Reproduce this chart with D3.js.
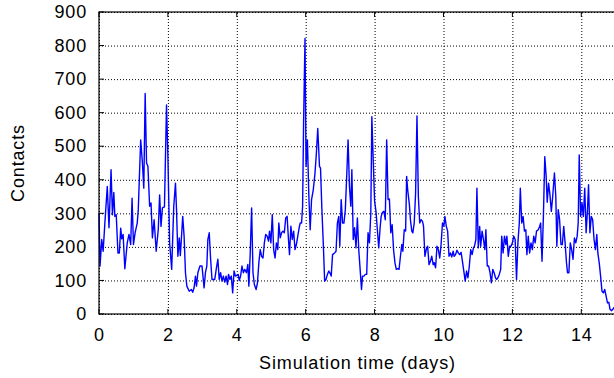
<!DOCTYPE html>
<html>
<head>
<meta charset="utf-8">
<script src="https://cdn.jsdelivr.net/npm/d3@7"></script>
<style>
  body { margin: 0; background: #fff; }
  text { font-family: "Liberation Sans", Arial, sans-serif; fill: #000; letter-spacing: 0.85px; }
</style>
</head>
<body>
<div id="grafico"></div>
<script>
// simulation time in days
const days = [
  0.00,0.03,0.08,0.12,0.17,0.24,0.29,0.35,0.39,0.43,0.46,0.50,0.55,0.59,0.63,0.66,0.70,0.75,0.82,0.87,
  0.92,0.96,1.00,1.05,1.11,1.14,1.21,1.26,1.30,1.34,1.38,1.42,1.47,1.51,1.55,1.60,1.66,1.72,1.76,1.80,
  1.84,1.90,1.96,2.00,2.05,2.11,
  2.17,2.22,2.25,2.29,2.33,2.36,2.39,2.43,2.47,2.51,2.55,2.62,2.68,2.72,2.76,2.80,2.83,2.87,2.93,2.99,
  3.05,3.09,3.13,3.16,3.20,3.24,3.28,3.32,3.36,3.41,3.45,3.49,3.53,3.57,3.61,3.65,3.69,3.73,3.76,3.80,
  3.84,3.88,3.92,3.96,4.00,4.04,4.07,4.11,4.15,4.19,4.23,
  4.28,4.32,4.35,4.39,4.43,4.47,4.51,4.56,4.60,4.64,4.68,4.72,4.76,4.80,4.84,4.88,4.92,4.95,4.99,5.03,
  5.07,5.11,5.15,5.19,5.22,5.26,5.30,5.34,5.38,5.42,5.46,5.50,5.53,5.57,5.61,5.65,5.69,5.73,5.77,5.81,
  5.84,5.88,5.91,5.94,5.98,6.01,6.05,6.09,6.13,6.17,6.22,6.27,6.31,6.35,
  6.40,6.43,6.47,6.51,6.55,6.59,6.63,6.67,6.71,6.74,6.78,6.84,6.88,6.92,6.96,6.99,7.03,7.07,7.11,7.15,
  7.19,7.23,7.27,7.31,7.34,7.38,7.42,7.46,7.50,7.54,7.58,7.62,7.65,7.69,7.73,7.77,7.81,7.85,7.89,7.92,
  7.96,8.00,8.04,8.08,8.12,8.16,8.19,8.23,8.27,8.31,8.35,8.39,8.43,8.47,
  8.51,8.55,8.59,8.63,8.67,8.71,8.75,8.79,8.82,8.86,8.90,8.93,8.96,9.01,9.04,9.08,9.11,9.15,9.19,9.23,
  9.27,9.31,9.35,9.39,9.42,9.46,9.50,9.54,9.58,9.62,9.66,9.70,9.73,9.77,9.81,9.85,9.89,9.93,9.97,10.01,
  10.04,10.08,10.12,10.16,10.20,10.24,10.28,10.31,10.35,10.39,10.43,10.47,10.51,10.55,10.59,
  10.63,10.67,10.71,10.75,10.79,10.83,10.87,10.90,10.94,10.97,11.01,11.05,11.08,11.12,11.16,11.20,11.23,11.27,11.31,11.35,
  11.39,11.43,11.47,11.51,11.54,11.58,11.62,11.66,11.69,11.73,11.77,11.81,11.84,11.88,11.92,11.96,12.00,12.04,12.08,12.12,
  12.16,12.20,12.23,12.27,12.31,12.35,12.39,12.42,12.46,12.50,12.54,12.58,12.62,12.66,12.70,
  12.75,12.79,12.82,12.86,12.90,12.94,12.98,13.01,13.05,13.09,13.13,13.17,13.22,13.26,13.29,13.33,13.37,13.41,13.45,13.49,
  13.53,13.57,13.60,13.64,13.68,13.72,13.76,13.80,13.84,13.88,13.91,13.94,13.98,14.02,14.06,14.10,14.14,14.18,14.21,14.25,
  14.29,14.33,14.37,14.41,14.45,14.48,14.52,14.56,14.60,14.64,14.68,14.72,14.76,14.80,14.83,14.87,14.91,14.95
];

// number of contacts at each time
const contacts = [
  300,143,222,187,270,380,257,430,296,362,291,296,182,182,256,224,237,135,212,237,
  207,345,207,243,271,311,519,450,375,657,450,440,321,331,227,281,187,251,355,261,
  316,319,623,469,212,133,
  321,390,311,172,227,174,222,291,232,123,83,68,73,65,78,113,83,123,143,143,
  78,123,143,222,242,163,103,103,103,138,163,103,123,98,113,95,113,88,118,103,
  113,63,128,113,115,118,100,113,143,123,133,
  123,148,83,182,316,123,88,73,93,153,192,172,167,212,237,232,217,247,212,296,
  192,167,212,192,271,227,242,247,242,286,291,222,177,262,222,247,192,207,232,257,
  271,271,321,578,821,440,519,355,251,341,370,420,479,553,
  440,435,311,212,98,103,118,128,121,113,177,182,187,271,291,202,341,271,271,311,
  410,519,380,321,430,222,257,197,286,192,133,73,113,113,118,118,242,212,301,588,
  459,336,306,251,197,257,291,303,306,281,519,341,343,242,
  266,192,153,133,135,133,172,207,187,251,247,410,370,326,281,247,242,271,360,590,
  350,271,281,276,262,172,192,202,147,157,172,147,153,138,202,192,167,207,271,262,
  291,262,247,172,182,170,187,172,177,190,182,177,184,157,128,
  98,128,108,143,192,177,197,202,222,375,197,261,202,247,222,192,251,143,143,123,
  93,133,123,108,103,108,118,133,232,182,232,207,232,172,202,202,212,232,222,103,
  212,271,375,271,291,247,251,177,232,182,212,192,232,212,247,
  251,261,271,157,291,469,410,333,390,355,306,350,420,350,202,311,281,207,207,261,
  212,153,123,123,212,192,163,227,212,232,271,474,291,331,291,375,242,311,385,242,
  291,281,222,192,237,182,153,113,68,63,73,53,33,35,15,10,13,20
];

const xTicks = [0, 2, 4, 6, 8, 10, 12, 14];
const yTicks = [0, 100, 200, 300, 400, 500, 600, 700, 800, 900];

// margens do grafico
const margin = { top: 12, right: 0, bottom: 64, left: 99 };
const width = 516.75;  // 15 dias, a borda direita fica fora da janela
const height = 302;

const svg = d3.select("#grafico")
  .append("svg")
    .attr("width", 614)
    .attr("height", 378)
  .append("g")
    .attr("transform", "translate(" + margin.left + "," + margin.top + ")");

const x = d3.scaleLinear()
  .domain([0, 15])
  .range([0, width]);

const y = d3.scaleLinear()
  .domain([0, 900])
  .range([height, 0]);

// eixo x com grade pontilhada
const xAxis = svg.append("g")
  .attr("transform", "translate(0," + height + ")")
  .call(d3.axisBottom(x).tickValues(xTicks).tickSizeInner(-height).tickSizeOuter(0).tickPadding(14));
xAxis.select(".domain").remove();
xAxis.selectAll("line")
  .attr("stroke", "#000")
  .attr("stroke-dasharray", "1,2");
xAxis.selectAll("text")
  .attr("font-size", "18px");

// eixo y com grade pontilhada
const yAxis = svg.append("g")
  .call(d3.axisLeft(y).tickValues(yTicks).tickSizeInner(-width).tickSizeOuter(0).tickPadding(12));
yAxis.select(".domain").remove();
yAxis.selectAll("line")
  .attr("stroke", "#000")
  .attr("stroke-dasharray", "1,2");
yAxis.selectAll("text")
  .attr("font-size", "18px");

// pequenos ticks solidos para dentro
svg.selectAll(".xt")
  .data(xTicks)
  .enter()
  .append("path")
    .attr("d", d => "M" + x(d) + "," + height + "v-5M" + x(d) + ",0v5")
    .attr("stroke", "#000");
svg.selectAll(".yt")
  .data(yTicks)
  .enter()
  .append("path")
    .attr("d", d => "M0," + y(d) + "h5")
    .attr("stroke", "#000");

// linha da serie
svg.append("path")
  .datum(days.map((d, i) => [d, contacts[i]]))
  .attr("fill", "none")
  .attr("stroke", "#0000ff")
  .attr("stroke-width", 1.4)
  .attr("stroke-linejoin", "round")
  .attr("d", d3.line()
    .x(d => x(d[0]))
    .y(d => y(d[1])));

// moldura
svg.append("rect")
  .attr("x", 0)
  .attr("y", 0)
  .attr("width", width)
  .attr("height", height)
  .attr("fill", "none")
  .attr("stroke", "#000")
  .attr("stroke-width", 1.2);

// rotulos dos eixos
svg.append("text")
  .attr("x", -(163 - margin.top))
  .attr("y", 17.5 - margin.left)
  .attr("transform", "rotate(-90)")
  .attr("text-anchor", "middle")
  .attr("dominant-baseline", "central")
  .attr("font-size", "18px")
  .text("Contacts");

svg.append("text")
  .attr("x", 357.5 - margin.left)
  .attr("y", 369 - margin.top)
  .attr("text-anchor", "middle")
  .attr("font-size", "18px")
  .text("Simulation time (days)");
</script>
</body>
</html>
